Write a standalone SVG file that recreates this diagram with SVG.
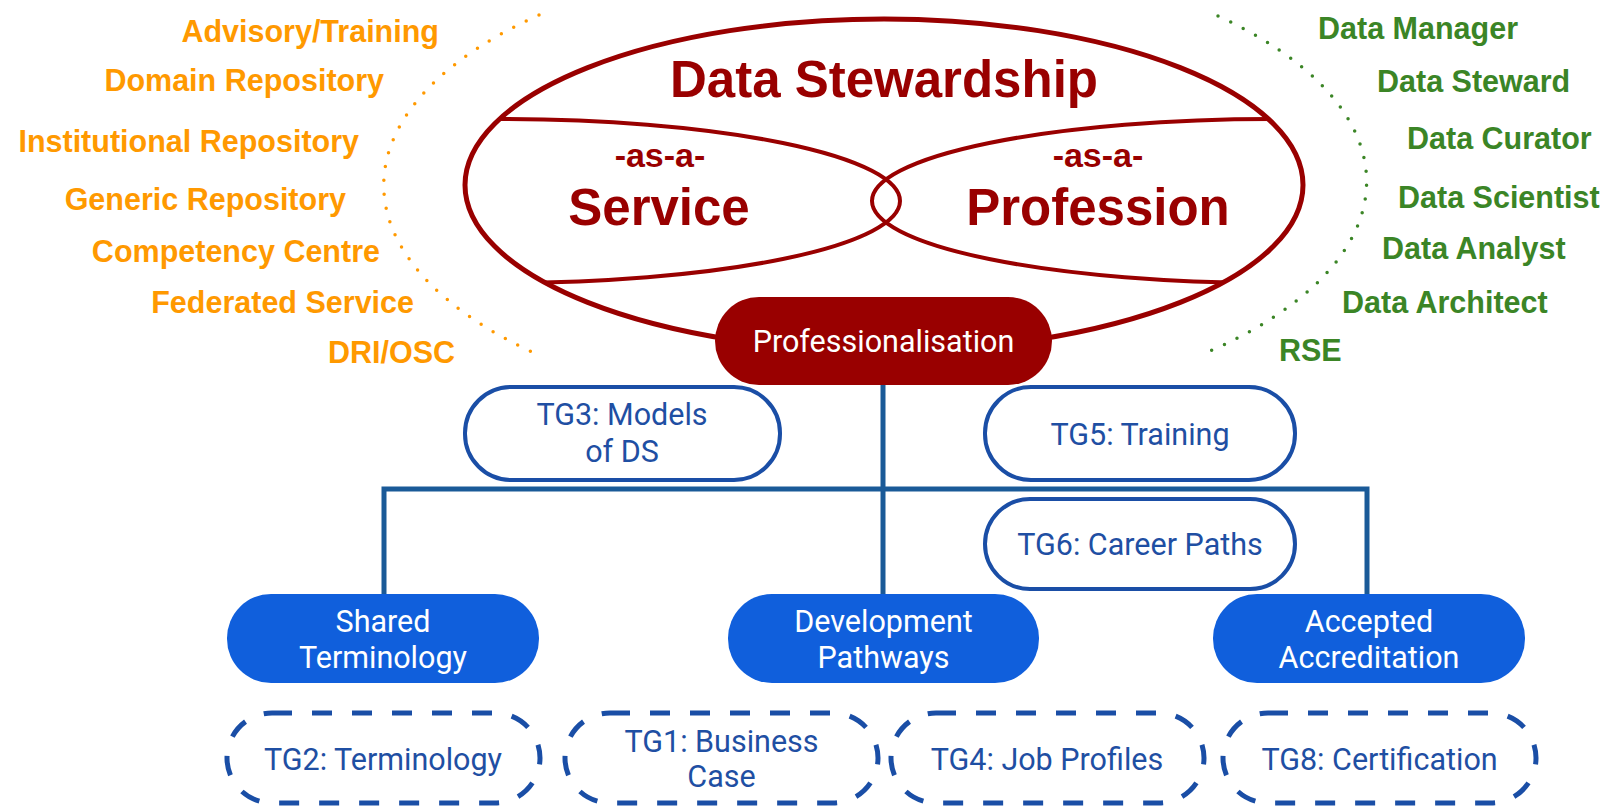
<svg xmlns="http://www.w3.org/2000/svg" width="1608" height="808" viewBox="0 0 1608 808">
<style>
.big{font-family:"Liberation Sans",Arial,sans-serif;font-weight:bold;fill:#990000}
.org{font-family:"Liberation Sans",Arial,sans-serif;font-weight:bold;font-size:30.5px;fill:#ff9900;text-anchor:end}
.grn{font-family:"Liberation Sans",Arial,sans-serif;font-weight:bold;font-size:30.5px;fill:#3b8526}
.rb{font-family:Roboto,"Liberation Sans",sans-serif;font-size:30.5px;text-anchor:middle}
.wt{fill:#ffffff}
.bt{fill:#1f4fa3}
.outline{fill:#ffffff;stroke:#1a4ea6;stroke-width:4}
.dash{fill:#ffffff;stroke:#1a4ea6;stroke-width:5;stroke-dasharray:20 20}
.solid{fill:#105fdc}
.conn{fill:none;stroke:#1a5a98;stroke-width:5}
.dots{fill:none;stroke-width:3.5;stroke-linecap:round;stroke-dasharray:0 14}
</style>
<defs>
<clipPath id="bigClip"><ellipse cx="884" cy="185" rx="419" ry="166"/></clipPath>
</defs>

<g id="dotted-arcs">
<path class="dots" stroke="#ff9900" d="M 539 15 A 506 236 0 0 0 532 352"/>
<path class="dots" stroke="#3b8526" d="M 1218 16 A 490 231 0 0 1 1210 351"/>
</g>

<g id="service-types">
<text class="org" x="439" y="42">Advisory/Training</text>
<text class="org" x="384" y="91">Domain Repository</text>
<text class="org" x="359" y="152">Institutional Repository</text>
<text class="org" x="346" y="210">Generic Repository</text>
<text class="org" x="380" y="262">Competency Centre</text>
<text class="org" x="414" y="313">Federated Service</text>
<text class="org" x="455" y="363">DRI/OSC</text>
</g>

<g id="profession-roles">
<text class="grn" x="1318" y="39">Data Manager</text>
<text class="grn" x="1377" y="92">Data Steward</text>
<text class="grn" x="1407" y="149">Data Curator</text>
<text class="grn" x="1398" y="208">Data Scientist</text>
<text class="grn" x="1382" y="259">Data Analyst</text>
<text class="grn" x="1342" y="313">Data Architect</text>
<text class="grn" x="1279" y="361">RSE</text>
</g>

<g id="data-stewardship">
<ellipse cx="884" cy="185" rx="419" ry="166" fill="#ffffff" stroke="#990000" stroke-width="5"/>
<g clip-path="url(#bigClip)" fill="none" stroke="#990000" stroke-width="4">
<ellipse cx="500" cy="201" rx="400" ry="82"/>
<ellipse cx="1272" cy="201" rx="400" ry="82"/>
</g>
<text class="big" x="884" y="97" font-size="51" text-anchor="middle">Data Stewardship</text>
<text class="big" x="660" y="167" font-size="34" text-anchor="middle">-as-a-</text>
<text class="big" x="659" y="225" font-size="51" text-anchor="middle">Service</text>
<text class="big" x="1098" y="167" font-size="34" text-anchor="middle">-as-a-</text>
<text class="big" x="1098" y="225" font-size="51" text-anchor="middle">Profession</text>
</g>

<g id="connectors">
<path class="conn" d="M 883 385 V 597"/>
<path class="conn" d="M 384 597 V 489 H 1367 V 597"/>
</g>

<g id="professionalisation">
<rect x="715" y="297" width="337" height="88" rx="44" fill="#990000"/>
<text class="rb wt" x="883.5" y="352">Professionalisation</text>
</g>

<g id="tg3">
<rect class="outline" x="465" y="387" width="315" height="93" rx="46"/>
<text class="rb bt" x="622" y="425">TG3: Models</text>
<text class="rb bt" x="622" y="462">of DS</text>
</g>
<g id="tg5">
<rect class="outline" x="985" y="387" width="310" height="93" rx="46"/>
<text class="rb bt" x="1140" y="445">TG5: Training</text>
</g>
<g id="tg6">
<rect class="outline" x="985" y="499" width="310" height="90" rx="45"/>
<text class="rb bt" x="1140" y="555">TG6: Career Paths</text>
</g>

<g id="shared-terminology">
<rect class="solid" x="227" y="594" width="312" height="89" rx="44"/>
<text class="rb wt" x="383" y="632">Shared</text>
<text class="rb wt" x="383" y="668">Terminology</text>
</g>
<g id="development-pathways">
<rect class="solid" x="728" y="594" width="311" height="89" rx="44"/>
<text class="rb wt" x="883.5" y="632">Development</text>
<text class="rb wt" x="883.5" y="668">Pathways</text>
</g>
<g id="accepted-accreditation">
<rect class="solid" x="1213" y="594" width="312" height="89" rx="44"/>
<text class="rb wt" x="1369" y="632">Accepted</text>
<text class="rb wt" x="1369" y="668">Accreditation</text>
</g>

<g id="tg2">
<rect class="dash" x="227" y="713" width="313" height="90" rx="45"/>
<text class="rb bt" x="383" y="770">TG2: Terminology</text>
</g>
<g id="tg1">
<rect class="dash" x="565" y="713" width="313" height="90" rx="45"/>
<text class="rb bt" x="721.5" y="752">TG1: Business</text>
<text class="rb bt" x="721.5" y="787">Case</text>
</g>
<g id="tg4">
<rect class="dash" x="891" y="713" width="313" height="90" rx="45"/>
<text class="rb bt" x="1047" y="770">TG4: Job Profiles</text>
</g>
<g id="tg8">
<rect class="dash" x="1223" y="713" width="313" height="90" rx="45"/>
<text class="rb bt" x="1379.5" y="770">TG8: Certification</text>
</g>
</svg>
